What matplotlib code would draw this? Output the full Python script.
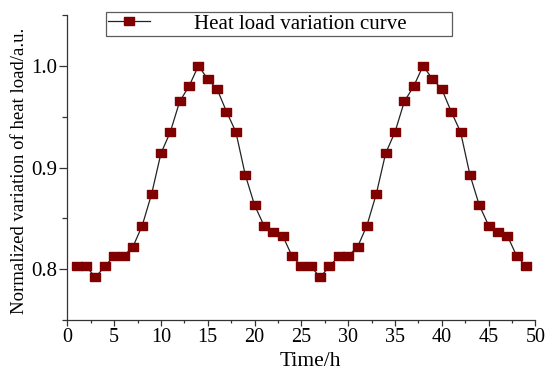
import matplotlib
matplotlib.use("Agg")
import matplotlib.pyplot as plt
from matplotlib.ticker import MultipleLocator

# hourly heat load, two days (period 24 h)
hours = list(range(1, 50))
load = [0.803, 0.803, 0.792, 0.803, 0.813, 0.813, 0.822, 0.843, 0.874, 0.914,
        0.935, 0.965, 0.980, 1.000, 0.987, 0.977, 0.955, 0.935, 0.893, 0.863,
        0.843, 0.837, 0.833, 0.813,
        0.803, 0.803, 0.792, 0.803, 0.813, 0.813, 0.822, 0.843, 0.874, 0.914,
        0.935, 0.965, 0.980, 1.000, 0.987, 0.977, 0.955, 0.935, 0.893, 0.863,
        0.843, 0.837, 0.833, 0.813, 0.803]
series_name = "Heat load variation curve"
x_label = "Time/h"
y_label = "Normalized variation of heat load/a.u."

plt.rcParams['font.family'] = ['Liberation Serif', 'DejaVu Serif']

fig = plt.figure(figsize=(5.52, 3.74), dpi=100)
ax = fig.add_axes([0.122, 0.144, 0.848, 0.816])

# slightly flat rectangle like the Origin marker
rect = [(-1.25, -1), (1.25, -1), (1.25, 1), (-1.25, 1), (-1.25, -1)]
ax.plot(hours, load, color='#222222', lw=0.9, marker=rect, ms=6.5,
        mfc='#800000', mec='#800000', label=series_name)

ax.set_xlim(0, 50)
ax.set_ylim(0.75, 1.05)
ax.xaxis.set_major_locator(MultipleLocator(5))
ax.xaxis.set_minor_locator(MultipleLocator(2.5))
ax.yaxis.set_minor_locator(MultipleLocator(0.05))
ax.set_yticks([0.8, 0.9, 1.0])
ax.set_yticklabels(['0.8', '0.9', '1.0'])

for s in ['top', 'right']:
    ax.spines[s].set_visible(False)
for s in ['left', 'bottom']:
    ax.spines[s].set_color('#333333')
    ax.spines[s].set_linewidth(0.9)

ax.tick_params(axis='x', which='major', direction='out', length=4, width=0.9,
               color='#333333', labelsize=14.5, pad=1.5)
ax.tick_params(axis='x', which='minor', direction='out', length=2.2, width=0.9,
               color='#333333')
ax.tick_params(axis='y', which='major', direction='out', length=6, width=0.9,
               color='#333333', labelsize=15, pad=1)
ax.tick_params(axis='y', which='minor', direction='out', length=3.5, width=0.9,
               color='#333333')

ax.set_xlabel(x_label, fontsize=15.5)
ax.set_ylabel(y_label, fontsize=13.5)
ax.xaxis.set_label_coords(0.52, -0.105)
ax.yaxis.set_label_coords(-0.084, 0.49)

leg = ax.legend(loc='upper left', bbox_to_anchor=(0.083, 1.0098, 0.739, 0.0),
                mode='expand', fontsize=15, frameon=True, fancybox=False,
                borderaxespad=0, borderpad=0.1, handlelength=2.0,
                handletextpad=2.1)
leg.get_frame().set_edgecolor('#333333')
leg.get_frame().set_linewidth(0.9)

fig.savefig('out.png', dpi=100)
